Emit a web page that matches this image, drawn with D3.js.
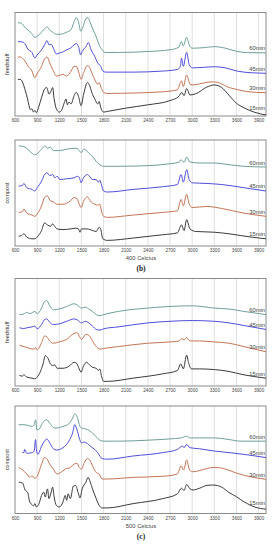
<!DOCTYPE html>
<html><head><meta charset="utf-8">
<script src="https://cdn.jsdelivr.net/npm/d3@7"></script>
<style>body{margin:0;background:#fff}svg{display:block}</style>
</head><body>
<script>
// ---- data ----
const ticks = [600,900,1200,1500,1800,2100,2400,2700,3000,3300,3600,3900];
const seriesNames = ["60min","45min","30min","15min"];
const panelYLabels = ["feedstuff","compost","feedstuff","compost"];
const tempLabels = ["400 Celcius","500 Celcius"];
const figLabels = ["(b)","(c)"];

// panel 1: feedstuff 400
const p1_60 = [[640,90],[674,90],[750,84.5],[823,80],[868,76],[900,77],[960,81],[1000,84.5],[1035,86],[1070,83],[1110,81],[1160,79],[1210,79],[1300,81],[1360,83.5],[1400,91],[1430,95],[1460,91],[1490,82],[1520,86],[1560,94],[1590,95],[1620,90],[1660,83],[1700,76.5],[1740,68.7],[1780,64],[1820,61.4],[2000,61.4],[2400,62.3],[2700,64],[2820,66.5],[2855,72],[2880,67.7],[2925,76],[2960,68.7],[3000,65.5],[3150,66],[3300,67],[3450,65.5],[3600,62.5],[3750,61.2],[4000,61]];
const p1_45 = [[640,71.8],[674,71.8],[720,71],[780,64],[830,61.4],[868,56],[900,59],[960,64],[1000,68.7],[1035,72.8],[1060,68.7],[1090,69.3],[1120,65.5],[1160,60],[1200,60.8],[1260,62.3],[1300,64],[1350,65.5],[1400,68.7],[1430,70],[1460,67],[1490,59],[1510,62.3],[1560,67],[1595,71],[1630,64],[1680,57.6],[1720,51.3],[1740,49.7],[1760,48],[1790,43.4],[1830,42.4],[2200,42.4],[2600,43.4],[2800,45],[2840,48],[2855,56],[2880,48],[2925,61.4],[2960,49.7],[3000,46.5],[3150,47],[3300,47.6],[3450,46.5],[3600,43.5],[3800,41.8],[4000,41.3]];
const p1_30 = [[640,57],[674,57],[720,54.4],[780,48],[830,43.4],[868,37],[900,41],[960,48],[1000,55],[1035,57],[1070,51.3],[1110,45],[1160,38.6],[1200,39.2],[1250,40.2],[1300,38.6],[1360,43.4],[1400,48],[1430,48],[1460,43.4],[1495,35.4],[1530,41.8],[1580,48.7],[1600,48],[1640,41.8],[1680,35.4],[1720,30.7],[1740,32.3],[1770,26.6],[1800,22.8],[1850,21.8],[2200,22.2],[2600,23.4],[2800,25.3],[2855,33.9],[2880,28.5],[2925,39.6],[2970,31],[3000,30],[3100,31],[3200,32.5],[3290,33],[3400,31],[3470,28.3],[3600,25.8],[3750,23.5],[4000,22.5]];
const p1_15 = [[640,35.4],[674,35.4],[700,33],[740,24.4],[770,16.5],[790,10],[810,6],[830,7],[850,3.8],[870,5.4],[890,3.2],[920,8.5],[960,18],[1000,26],[1030,27.5],[1060,21.2],[1090,24.4],[1110,27.5],[1130,16.5],[1160,7],[1200,3.8],[1230,5.4],[1270,13.3],[1290,16.5],[1310,10.8],[1330,13.3],[1360,11.7],[1400,19.6],[1430,22.8],[1460,19],[1495,10],[1530,21.2],[1580,32.3],[1610,29.7],[1640,22.8],[1680,16.5],[1720,11.7],[1740,14],[1760,8.5],[1800,3.8],[1850,4.4],[2100,7.6],[2400,10.8],[2700,14.9],[2820,19],[2860,22.8],[2890,19.6],[2925,26.6],[2970,20.3],[3050,21.5],[3200,28],[3300,30],[3400,27.5],[3500,20],[3600,12.3],[3700,8],[3850,3.5],[4000,1]];

// panel 2: compost 400
const p2_60 = [[650,94.4],[720,93.8],[780,90.7],[830,87.6],[868,86],[900,87],[960,91.3],[1010,94.4],[1040,92.2],[1080,93.2],[1120,90],[1200,90],[1300,91.3],[1400,92.2],[1440,92.2],[1480,89],[1500,88.2],[1530,91.3],[1560,90.7],[1600,87.6],[1650,84.5],[1700,79.8],[1750,76.7],[1800,75.2],[2000,75.2],[2400,75.8],[2700,77.6],[2820,78.9],[2850,81.4],[2890,78.9],[2925,83.9],[2970,79.2],[3100,78.3],[3300,78.3],[3500,76.7],[3700,75.2],[4000,74.5]];
const p2_45 = [[650,56.5],[700,57.1],[720,59],[760,55],[830,53.4],[868,51.9],[900,55],[960,61.2],[1000,67.4],[1035,69],[1070,66.5],[1110,67.4],[1140,64.3],[1170,65.8],[1210,62.7],[1300,63.4],[1400,64.3],[1450,65.8],[1480,62.7],[1495,59.6],[1520,63.4],[1580,67.4],[1610,65.8],[1650,62.7],[1700,62.7],[1730,60.2],[1750,62],[1770,58],[1800,51.9],[1850,50.9],[2200,53.4],[2600,55.9],[2800,58],[2850,67.4],[2880,60.2],[2925,72],[2960,62.7],[3000,59.6],[3200,59],[3400,58],[3700,55],[4000,51.9]];
const p2_30 = [[650,31.7],[700,32.3],[720,34.8],[760,31],[830,29.2],[870,28],[900,30.1],[960,37.9],[1000,45.7],[1040,47.2],[1080,42.5],[1120,41.6],[1170,39.4],[1250,39.4],[1350,42.5],[1400,45.7],[1440,44.7],[1470,39.4],[1495,36.3],[1530,42.5],[1580,46.3],[1620,42.5],[1680,39.4],[1720,38.5],[1750,39.4],[1770,33.2],[1800,28],[1850,27],[2200,29.2],[2600,31.7],[2800,33.2],[2850,44],[2880,37.9],[2925,48.8],[2960,39.4],[3000,36.3],[3200,37.3],[3400,35.4],[3700,31],[4000,28]];
const p2_15 = [[650,9.3],[690,9.9],[720,11.5],[760,8.4],[830,6.8],[870,6.8],[900,8.4],[960,14.6],[1000,21.7],[1040,19.9],[1080,18.6],[1110,20.8],[1130,19.3],[1170,16.1],[1250,15.5],[1350,16.1],[1420,16.8],[1460,16.1],[1480,13],[1500,16.1],[1580,16.1],[1650,14.6],[1700,13.7],[1740,17.7],[1760,16.1],[1790,6.8],[1850,5.3],[2200,7.5],[2600,10.6],[2800,12.4],[2855,19.9],[2890,14.6],[2925,24.8],[2970,16.1],[3050,13.7],[3300,13],[3500,11.5],[3800,8.4],[4000,6.8]];

// panel 3: feedstuff 500
const p3_60 = [[660,66.4],[720,67],[760,68.5],[800,67.3],[840,68.5],[870,69.4],[900,67.3],[960,72.5],[1000,78.6],[1030,79.5],[1070,74.6],[1120,70.9],[1200,71.6],[1300,74],[1400,76.5],[1440,75.5],[1500,72.5],[1560,73.4],[1600,71.6],[1650,69.4],[1700,66.4],[1750,65.4],[1800,66.4],[2000,69.4],[2400,72.5],[2700,74],[3000,74.6],[3300,72.5],[3500,71.6],[3700,69.4],[4000,66.4]];
const p3_45 = [[660,54.1],[720,53.5],[760,54.1],[830,55],[870,55.7],[900,53.2],[960,57.2],[1000,61.8],[1030,62.4],[1070,59.3],[1120,57.2],[1200,57.8],[1300,60.2],[1400,62.4],[1450,61.2],[1500,58.7],[1550,60.2],[1600,58.7],[1650,55.7],[1700,52.6],[1750,52],[1800,53.2],[2000,55],[2400,58.7],[2700,60.2],[3000,60.9],[3300,60.2],[3500,58.7],[3700,56.3],[4000,52.6]];
const p3_30 = [[660,37.9],[720,36.7],[800,34.9],[860,34.3],[880,35.8],[900,33.6],[960,40.4],[1000,46.5],[1030,45.9],[1070,41.9],[1120,39.8],[1200,41],[1300,43.4],[1400,48.9],[1440,49.5],[1480,45],[1500,43.4],[1560,48],[1600,47.1],[1650,41.9],[1700,36.7],[1750,34.3],[1800,34.9],[2000,36.7],[2400,39.8],[2700,41],[2820,41.9],[2860,44],[2890,42.8],[2925,45],[2970,41.9],[3100,41.9],[3300,41],[3500,39.8],[3700,36.7],[4000,31.8]];
const p3_15 = [[660,9.8],[700,9.2],[720,10.4],[760,8.3],[830,7.3],[870,6.7],[900,8.3],[940,12.8],[980,20.5],[1010,28.1],[1040,26.6],[1080,20.5],[1110,19],[1140,19.6],[1170,16.5],[1250,16.5],[1330,18.3],[1400,22],[1430,21.4],[1470,15.9],[1495,12.8],[1530,19],[1570,22],[1610,19.6],[1650,17.4],[1700,16.5],[1730,14.4],[1750,15.9],[1770,9.8],[1800,4.3],[1850,4.3],[2200,7.3],[2600,11.3],[2800,14.4],[2845,20.5],[2880,15.9],[2925,28.7],[2950,22],[2990,15.9],[3100,15.9],[3300,15.3],[3500,13.5],[3700,10.4],[4000,7.3]];

// panel 4: compost 500
const p4_60 = [[650,82.6],[720,82.6],[790,81.7],[830,81],[860,82.6],[880,87.2],[895,78],[920,78],[960,82.6],[1000,86.5],[1030,87.2],[1070,84.1],[1120,80.1],[1160,79.5],[1250,81],[1330,83.5],[1380,88.7],[1410,92.7],[1440,90.2],[1480,81],[1500,79.5],[1560,78.6],[1600,77.4],[1650,74.9],[1700,71.3],[1750,68.2],[1800,67.3],[2000,67.3],[2400,68.2],[2700,69.4],[2850,70.3],[2925,71.9],[2970,70.3],[3100,70.3],[3300,70.3],[3500,68.8],[3650,67.3],[4000,67.3]];
const p4_45 = [[700,56.6],[720,56.6],[730,59.6],[760,56],[830,56.6],[860,58.1],[878,68.8],[890,59.6],[910,55],[960,62.7],[1000,67.3],[1030,69.4],[1070,65.7],[1120,60.2],[1160,59],[1250,61.2],[1330,67.3],[1380,74.9],[1410,82.6],[1440,78],[1470,70.3],[1500,65.7],[1530,66.4],[1580,65.1],[1620,62.7],[1680,59.6],[1720,56.6],[1780,51.1],[1850,50.5],[2200,53.5],[2600,56.6],[2800,59.6],[2870,62.7],[2890,61.2],[2925,64.2],[2970,61.2],[3100,60.2],[3300,58.1],[3500,56.6],[3700,55],[4000,52]];
const p4_30 = [[650,42.8],[700,40.7],[760,36.7],[800,33.6],[830,35.2],[870,32.7],[900,34.6],[960,45.9],[1000,52],[1030,51.1],[1070,45.9],[1120,41.3],[1170,36.7],[1220,38.2],[1280,41.3],[1350,42.8],[1400,45.9],[1440,46.8],[1470,42.8],[1500,41.3],[1540,47.4],[1580,51.1],[1620,48.9],[1660,42.8],[1700,38.2],[1740,36.7],[1780,32.1],[1850,32.1],[2200,33.6],[2600,34.6],[2800,36.7],[2850,44.3],[2885,40.4],[2925,49.8],[2960,41.3],[3000,38.8],[3200,41.8],[3300,43],[3450,41.3],[3600,37.6],[3800,34],[4000,31.8]];
const p4_15 = [[650,29.1],[700,28.4],[740,21.4],[770,19.9],[800,10.7],[830,8.3],[850,7],[870,9.2],[890,6.1],[920,8.3],[960,16.8],[990,19.9],[1010,15.3],[1040,22.9],[1060,13.8],[1090,19.9],[1110,24.5],[1130,15.3],[1160,7.6],[1200,6.1],[1250,10.7],[1280,16.8],[1300,12.2],[1320,18.3],[1350,13.8],[1390,25.4],[1420,26],[1460,18.3],[1480,14.4],[1510,22.9],[1560,29.1],[1590,33.6],[1620,29.1],[1650,22.9],[1700,13.8],[1740,7.6],[1780,5.2],[1850,5.2],[2200,9.2],[2600,13.8],[2800,18.3],[2855,23.5],[2890,21.4],[2925,27],[2970,23],[3010,21.9],[3100,23.5],[3200,26.2],[3280,26.5],[3400,24.5],[3500,19.5],[3600,15.6],[3700,11],[3850,6],[4000,4]];

const panelsData = [
  [p1_60,p1_45,p1_30,p1_15],
  [p2_60,p2_45,p2_30,p2_15],
  [p3_60,p3_45,p3_30,p3_15],
  [p4_60,p4_45,p4_30,p4_15]
];

// ---- layout / style ----
const W = 279, H = 550;
const colors = ["#6f9e9b","#4e4fd8","#c47456","#3a3a3a"];
const layout = [
  {top:12.5, bottom:116},
  {top:140, bottom:246},
  {top:278.5, bottom:386},
  {top:406, bottom:513.5}
];
const x0 = 15, x1 = 266;

const svg = d3.select("body").append("svg").attr("width",W).attr("height",H)
  .style("font-family","'Liberation Sans', Arial, sans-serif");

const x = d3.scaleLinear().domain([600,4000]).range([x0,x1]);

layout.forEach((L,i) => {
  const y = d3.scaleLinear().domain([0,100]).range([L.bottom,L.top]);
  const g = svg.append("g");
  g.selectAll("line.grid").data(ticks.slice(1)).enter().append("line")
    .attr("x1",d=>x(d)).attr("x2",d=>x(d)).attr("y1",L.top).attr("y2",L.bottom)
    .attr("stroke","#d8d8d8").attr("stroke-width",0.8);
  const ax = d3.axisBottom(x).tickValues(ticks).tickSize(0).tickPadding(3).tickFormat(d3.format("d"));
  const axg = g.append("g").attr("transform",`translate(0,${L.bottom})`).call(ax);
  axg.select(".domain").remove();
  axg.selectAll("text").attr("font-size",4.6).attr("fill","#444");
  g.append("rect").attr("x",x0).attr("y",L.top).attr("width",x1-x0).attr("height",L.bottom-L.top)
    .attr("fill","none").attr("stroke","#8a8a8a").attr("stroke-width",1);
  const line = d3.line().x(d=>x(d[0])).y(d=>y(d[1])).curve(d3.curveMonotoneX);
  const clipId = "clip"+i;
  svg.append("clipPath").attr("id",clipId).append("rect")
    .attr("x",x0).attr("y",L.top).attr("width",x1-x0).attr("height",L.bottom-L.top);
  panelsData[i].forEach((s,j) => {
    g.append("path").datum(s).attr("d",line).attr("fill","none")
      .attr("stroke",colors[j]).attr("stroke-width",1).attr("clip-path",`url(#${clipId})`);
    const vEnd = s.find(p=>p[0]>=3850) || s[s.length-1];
    g.append("text").attr("x",265).attr("y",y(vEnd[1])-2.5).attr("text-anchor","end")
      .attr("font-size",5.8).attr("fill","#444").text(seriesNames[j]);
  });
  g.append("text").attr("transform",`translate(8.5,${(L.top+L.bottom)/2}) rotate(-90)`)
    .attr("text-anchor","middle").attr("font-size",5.6).attr("fill","#333").text(panelYLabels[i]);
  if (i===1 || i===3) {
    const k = (i-1)/2;
    g.append("text").attr("x",141).attr("y",L.bottom+14).attr("text-anchor","middle")
      .attr("font-size",5.8).attr("fill","#444").text(tempLabels[k]);
    g.append("text").attr("x",141).attr("y",L.bottom+25).attr("text-anchor","middle")
      .attr("font-size",7.5).attr("font-weight","bold").attr("font-family","'Liberation Serif', serif")
      .attr("fill","#222").text(figLabels[k]);
  }
});
</script>
</body></html>
